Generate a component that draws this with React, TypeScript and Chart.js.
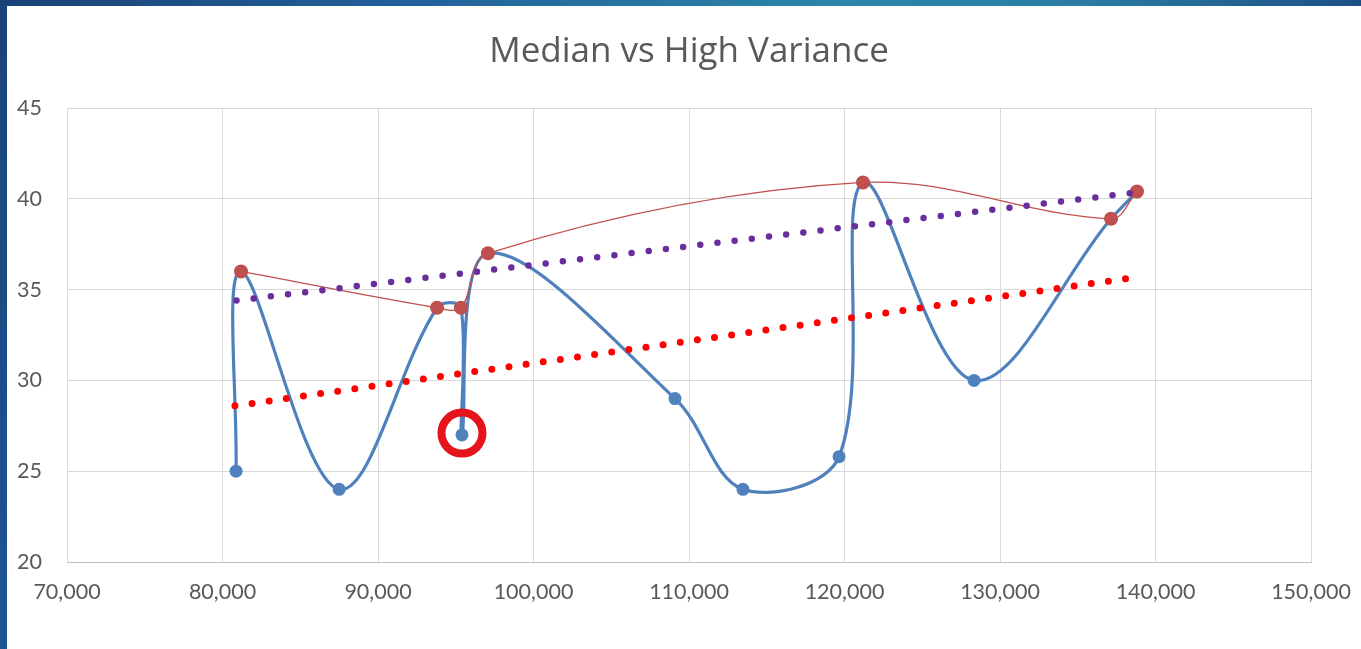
import React, { useEffect, useRef } from "react";
import { Chart, registerables } from "chart.js";

Chart.register(...registerables);

// All observations (blue series), in drawing order
const allX = [80870, 81190, 87500, 93800, 95330, 95400, 97070, 109100, 113470, 119650, 121190, 128330, 137140, 138810];
const allY = [25, 36, 24, 34, 34, 27, 37, 29, 24, 25.8, 40.9, 30, 38.9, 40.4];

// High-value subset (red series)
const highX = [81190, 93800, 95330, 97070, 121190, 137140, 138810];
const highY = [36, 34, 34, 37, 40.9, 38.9, 40.4];

// Dotted trend lines (end points)
const highTrendX = [80900, 138800];
const highTrendY = [34.4, 40.35];
const allTrendX = [80800, 138900];
const allTrendY = [28.6, 35.7];

// Highlighted observation
const markX = [95400];
const markY = [27.1];

const TITLE = "Median vs High Variance";
const xTickMin = 70000;
const xTickMax = 150000;
const xTickStep = 10000;
const yTickMin = 20;
const yTickMax = 45;
const yTickStep = 5;

const pts = (xs: number[], ys: number[]) => xs.map((x, i) => ({ x, y: ys[i] }));

const plotTitle = {
  id: "plotTitle",
  afterDraw(chart: any) {
    const { ctx, chartArea } = chart;
    ctx.save();
    ctx.font = '35px "Open Sans"';
    ctx.fillStyle = "#595959";
    ctx.textAlign = "center";
    ctx.textBaseline = "middle";
    ctx.fillText(TITLE, (chartArea.left + chartArea.right) / 2, 46);
    ctx.restore();
  },
};

export default function App() {
  const ref = useRef<HTMLCanvasElement>(null);

  useEffect(() => {
    document.body.style.margin = "0";
    const chart = new Chart(ref.current!, {
      type: "scatter",
      data: {
        datasets: [
          {
            label: "Highlight",
            data: pts(markX, markY),
            showLine: false,
            pointRadius: 20.5,
            pointBorderWidth: 8,
            pointBorderColor: "#E5131B",
            pointBackgroundColor: "rgba(0,0,0,0)",
            order: 0,
          },
          {
            label: "All trend",
            data: pts(allTrendX, allTrendY),
            showLine: true,
            borderColor: "#FF0000",
            borderWidth: 7,
            borderDash: [0, 17.3],
            borderCapStyle: "round",
            pointRadius: 0,
            order: 1,
          },
          {
            label: "High trend",
            data: pts(highTrendX, highTrendY),
            showLine: true,
            borderColor: "#6A2E9C",
            borderWidth: 6.5,
            borderDash: [0, 17.3],
            borderCapStyle: "round",
            pointRadius: 0,
            order: 2,
          },
          {
            label: "High",
            data: pts(highX, highY),
            showLine: true,
            tension: 0.35,
            borderColor: "#C0504D",
            borderWidth: 1.3,
            pointRadius: 7,
            pointBorderWidth: 0,
            pointBackgroundColor: "#C0504D",
            pointBorderColor: "#C0504D",
            order: 3,
          },
          {
            label: "All",
            data: pts(allX, allY),
            showLine: true,
            tension: 0.35,
            borderColor: "#4F81BD",
            borderWidth: 3.2,
            pointRadius: 6.5,
            pointBorderWidth: 0,
            pointBackgroundColor: "#4F81BD",
            pointBorderColor: "#4F81BD",
            order: 4,
          },
        ],
      },
      options: {
        responsive: false,
        animation: false,
        layout: { padding: { left: 10, right: 50, top: 102, bottom: 0 } },
        plugins: {
          legend: { display: false },
          tooltip: { enabled: false },
          title: { display: false },
        },
        scales: {
          x: {
            type: "linear",
            min: xTickMin,
            max: xTickMax,
            ticks: {
              stepSize: xTickStep,
              color: "#595959",
              font: { family: "Lato", size: 21.5, lineHeight: 1.2 },
              padding: 17.5,
              maxRotation: 0,
              callback: (v: any) => Number(v).toLocaleString("en-US"),
            },
            grid: { color: "#D9D9D9", lineWidth: 1, drawTicks: false },
            border: { color: "#BFBFBF", width: 1 },
            afterFit: (s: any) => {
              s.height = 87;
              s.paddingLeft = 0;
              s.paddingRight = 0;
            },
          },
          y: {
            type: "linear",
            min: yTickMin,
            max: yTickMax,
            ticks: {
              stepSize: yTickStep,
              color: "#595959",
              font: { family: "Lato", size: 21.5, lineHeight: 1.2 },
              crossAlign: "far",
            },
            grid: { color: "#D9D9D9", lineWidth: 1, drawTicks: false },
            border: { color: "#D9D9D9", width: 1 },
            afterFit: (s: any) => {
              s.width = 50;
              s.paddingTop = 0;
              s.paddingBottom = 0;
            },
          },
        },
      },
      plugins: [plotTitle],
    } as any);
    return () => chart.destroy();
  }, []);

  return (
    <div
      style={{
        position: "fixed",
        left: 0,
        top: 0,
        width: 1361,
        height: 649,
        background: "#ffffff",
        overflow: "hidden",
      }}
    >
      <div
        style={{
          position: "absolute",
          left: 0,
          top: 0,
          width: 7,
          height: 649,
          background: "linear-gradient(180deg, #1A447A 0%, #1D5594 100%)",
        }}
      />
      <div
        style={{
          position: "absolute",
          left: 0,
          top: 0,
          width: 1361,
          height: 6,
          background:
            "linear-gradient(90deg, #1A4276 0%, #22619A 30%, #2C86A9 62%, #2A7CA4 80%, #1D4F85 100%)",
        }}
      />
      <canvas ref={ref} width={1354} height={643} style={{ position: "absolute", left: 7, top: 6 }} />
    </div>
  );
}
